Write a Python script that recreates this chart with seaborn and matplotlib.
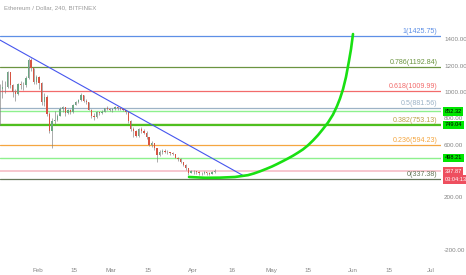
import numpy as np
import pandas as pd
import matplotlib
matplotlib.use("Agg")
import matplotlib.pyplot as plt
import matplotlib.dates as mdates
import seaborn as sns

# daily candles (Jan 17 - Apr 9, 2018)
first_open = 1000
closes = [1020, 1040, 1035, 1150, 1050, 1000, 985, 1060, 1050, 1055, 1105, 1240, 1180, 1075, 1115,
          1070, 920, 960, 830, 700, 780, 790, 820, 870, 885, 840, 860, 850, 900, 925, 940, 975, 930,
          920, 865, 820, 810, 845, 840, 850, 875, 870, 860,
          870, 885, 875, 870, 860, 845, 780, 715, 700, 665, 720, 705, 690, 655, 600, 615, 570, 520,
          545, 550, 545, 540, 535, 525, 500, 490, 465, 445, 420, 385, 400,
          395, 390, 385, 380, 390, 385, 375, 390, 400]
highs = [1060, 1090, 1080, 1160, 1155, 1060, 1020, 1070, 1080, 1075, 1120, 1255, 1260, 1185, 1130,
         1120, 1075, 990, 975, 850, 800, 855, 835, 885, 895, 885, 870, 870, 905, 935, 945, 990, 980,
         945, 925, 870, 840, 855, 850, 860, 880, 890, 875,
         880, 890, 890, 880, 875, 865, 855, 785, 730, 710, 725, 730, 715, 700, 660, 630, 615, 575,
         560, 565, 565, 560, 545, 545, 530, 505, 495, 470, 450, 420, 405,
         405, 400, 395, 390, 395, 390, 390, 395, 410]
lows = [750, 955, 990, 1030, 1030, 960, 930, 980, 1020, 1015, 1040, 1100, 1160, 1060, 1060,
        1020, 900, 890, 820, 690, 570, 760, 780, 820, 850, 815, 830, 835, 840, 900, 915, 930, 920,
        910, 860, 805, 790, 800, 825, 835, 845, 860, 855,
        850, 860, 865, 860, 855, 835, 765, 705, 660, 655, 660, 690, 680, 645, 590, 585, 560, 470,
        515, 530, 535, 530, 520, 520, 495, 475, 460, 440, 405, 370, 380,
        375, 375, 370, 370, 375, 370, 365, 375, 385]
candle_dates = pd.date_range("2018-01-17 12:00", periods=len(closes), freq="D")

# drawn projection curve
curve_dates = pd.to_datetime([
    "2018-03-30 17:00", "2018-04-05 19:00", "2018-04-11 13:00", "2018-04-17 06:00", "2018-04-22 05:00",
    "2018-04-24 12:00", "2018-04-26 19:00", "2018-04-29 02:00", "2018-05-01 09:00", "2018-05-03 06:00",
    "2018-05-05 13:00", "2018-05-07 11:00", "2018-05-09 09:00", "2018-05-11 06:00", "2018-05-13 04:00",
    "2018-05-15 02:00", "2018-05-17 00:00", "2018-05-18 22:00", "2018-05-20 19:00", "2018-05-22 17:00",
    "2018-05-24 15:00", "2018-05-26 04:00", "2018-05-27 07:00", "2018-05-28 11:00", "2018-05-29 14:00",
    "2018-05-30 17:00", "2018-05-31 12:00", "2018-06-01 06:00"])
curve_prices = [353, 347, 348, 353, 367,
                380, 396, 414, 433, 451,
                474, 494, 515, 538, 563,
                594, 631, 672, 718, 767,
                828, 893, 950, 1022, 1114,
                1235, 1327, 1441]

# trend line
trend_dates = pd.to_datetime(["2018-01-17 15:00", "2018-04-20 17:00"])
trend_prices = [1395, 360]

# fibonacci retracement
fib_levels = ["1", "0.786", "0.618", "0.5", "0.382", "0.236", "0"]
fib_prices = [1425.75, 1192.84, 1009.99, 881.56, 753.13, 594.23, 337.38]
fib_colors = ["#5d8fe6", "#6b9440", "#f26b6b", "#9db3c6", "#bca24a", "#f5a640", "#66775a"]

# horizontal alert lines with price tags
alert_prices = [852.32, 749.04, 498.21, 397.87]
alert_colors = ["#8ef08e", "#4fbf1f", "#8ef08e", "#f7c3cb"]
alert_widths = [1.0, 1.6, 1.0, 1.3]
tag_colors = ["#00e600", "#00e600", "#00e600", "#ee4f5f"]
tag_text = ["#000000", "#000000", "#000000", "#ffffff"]

price_ticks = [-200, 200, 600, 800, 1000, 1200, 1400]
date_ticks = ["2018-02-01", "2018-02-15", "2018-03-01", "2018-03-15", "2018-04-01", "2018-04-16",
              "2018-05-01", "2018-05-15", "2018-06-01", "2018-06-15", "2018-07-01"]
date_labels = ["Feb", "15", "Mar", "15", "Apr", "16", "May", "15", "Jun", "15", "Jul"]

sns.set_style("white")
plt.rcParams["font.family"] = ["Liberation Sans", "DejaVu Sans"]

fig = plt.figure(figsize=(4.66, 2.75), dpi=100)
ax = fig.add_axes([0, 13 / 275, 441 / 466, 262 / 275])

x0 = mdates.date2num(pd.Timestamp("2018-02-01")) - 37.7 / 2.622
ax.set_xlim(x0, x0 + 441 / 2.622)
ax.set_ylim(-294, 1700)

# fib lines + labels
for lvl, p, c in zip(fib_levels, fib_prices, fib_colors):
    ax.axhline(p, color=c, lw=0.9, zorder=1)
    ax.annotate(f"{lvl}({p:.2f})", xy=(0.9925, p), xycoords=("axes fraction", "data"),
                xytext=(0, 0.6), textcoords="offset points", ha="right", va="bottom",
                fontsize=5.1, color=c)

for p, c, w in zip(alert_prices, alert_colors, alert_widths):
    ax.axhline(p, color=c, lw=w, zorder=1.5)

# candles
t = mdates.date2num(candle_dates)
c_arr = np.array(closes, dtype=float)
o_arr = np.array([first_open] + closes[:-1], dtype=float)
up = c_arr >= o_arr
body_cols = np.where(up, "#6ba583", "#d75442")
ax.vlines(t, lows, highs, colors="#7d7d7d", lw=0.45, zorder=2)
ax.bar(t, np.maximum(np.abs(c_arr - o_arr), 4), bottom=np.minimum(o_arr, c_arr), width=0.5,
       color=body_cols, linewidth=0, zorder=3)

# trend line and projection
sns.lineplot(x=mdates.date2num(trend_dates), y=trend_prices, ax=ax, color="#4656ee", lw=0.8, zorder=4)
sns.lineplot(x=mdates.date2num(curve_dates), y=curve_prices, ax=ax, color="#19e012", lw=1.9,
             zorder=5, sort=False, solid_capstyle="round", solid_joinstyle="round")

# price tags on the scale
for p, fc, tc in zip(alert_prices, tag_colors, tag_text):
    ax.annotate(f"{p:.2f}", xy=(1.008, p), xycoords=("axes fraction", "data"), ha="left", va="center",
                fontsize=4.1, color=tc, annotation_clip=False,
                bbox=dict(boxstyle="square,pad=0.3", fc=fc, ec="none"))
ax.annotate("03:04:13", xy=(1.008, alert_prices[-1]), xycoords=("axes fraction", "data"),
            xytext=(0, -6.0), textcoords="offset points", ha="left", va="center",
            fontsize=4.1, color="#ffffff", annotation_clip=False,
            bbox=dict(boxstyle="square,pad=0.3", fc="#ee4f5f", ec="none"))

ax.yaxis.tick_right()
ax.set_yticks(price_ticks)
ax.set_yticklabels([f"{v:.2f}" for v in price_ticks])
ax.set_xticks(mdates.date2num(pd.to_datetime(date_ticks)))
ax.set_xticklabels(date_labels)
ax.tick_params(axis="y", length=0, pad=2.2, labelsize=4.5, labelcolor="#858585")
ax.tick_params(axis="x", length=0, pad=4.2, labelsize=4.5, labelcolor="#858585")
ax.set_xlabel("")
ax.set_ylabel("")
for s in ax.spines.values():
    s.set_visible(False)

fig.text(4 / 466, 1 - 8 / 275, "Ethereum / Dollar, 240, BITFINEX", ha="left", va="center",
         fontsize=4.4, color="#9a9a9a")

fig.savefig("out.png", dpi=100)
